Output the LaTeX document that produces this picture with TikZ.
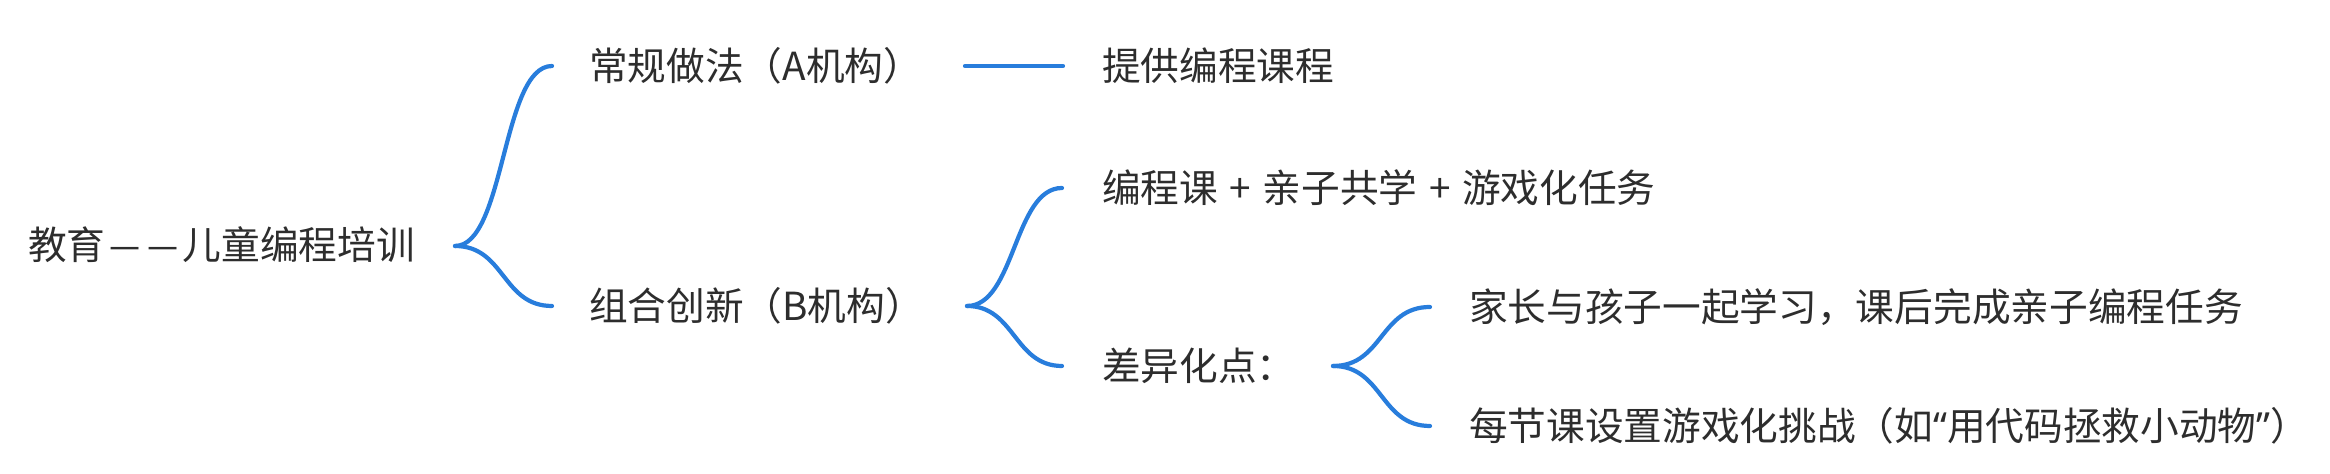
\documentclass[tikz,border=0pt]{standalone}
\usepackage{fontspec}
\setmainfont{Noto Sans CJK SC}
\newfontfamily\quotefont{Noto Sans}
\usepackage{xcolor}
\usepackage{graphicx}
\usetikzlibrary{positioning}
\definecolor{mapblue}{RGB}{40,125,220}
\definecolor{maptext}{RGB}{45,45,45}
\newcommand{\gapdash}{\makebox[1em]{\scalebox{0.9}[1]{—}}}
\newcommand{\wideplus}{\hspace{0.3em}+\hspace{0.3em}}

\begin{document}
\begin{tikzpicture}[x=0.01cm, y=-0.01cm, line width=1.2pt, topic node/.style={anchor=west,inner sep=0pt,text=maptext,font=\fontsize{11}{13}\selectfont}, link line/.style={draw=mapblue,line cap=round}]%px grid
\useasboundingbox (0,0) rectangle (2330,474);
\begin{scope}[every node/.style={topic node}]
\node (root) at (26,245) {教育\gapdash\gapdash 儿童编程培训};
\node (orgA) at (587,66) {常规做法（A机构）};
\node (orgB) at (587,306) {组合创新（B机构）};
\node (course) at (1100,66) {提供编程课程};
\node (combo) at (1100,188) {编程课\wideplus 亲子共学\wideplus 游戏化任务};
\node (diff) at (1100,366) {差异化点：};
\node (diffA) at (1467,307) {家长与孩子一起学习，课后完成亲子编程任务};
\node (diffB) at (1467,426) {每节课设置游戏化挑战（如{\quotefont “}用代码拯救小动物{\quotefont ”}）};
\end{scope}
\coordinate (rootfork) at (455,246);
\coordinate (forkA) at (965,66);
\coordinate (forkB) at (967,306);
\coordinate (forkD) at (1333,366);
\begin{scope}[every path/.style={link line}]
\draw (rootfork) .. controls +(50,0) and +(-50,0) .. ([xshift=-0.35cm]orgA.west);
\draw (rootfork) .. controls +(50,0) and +(-50,0) .. ([xshift=-0.35cm]orgB.west);
\draw (forkA) -- ([xshift=-0.37cm]course.west);
\draw (forkB) .. controls +(48,0) and +(-48,0) .. ([xshift=-0.38cm]combo.west);
\draw (forkB) .. controls +(48,0) and +(-48,0) .. ([xshift=-0.38cm]diff.west);
\draw (forkD) .. controls +(50,0) and +(-50,0) .. ([xshift=-0.37cm]diffA.west);
\draw (forkD) .. controls +(50,0) and +(-50,0) .. ([xshift=-0.37cm]diffB.west);
%\draw (diff) -- (diffA);
\end{scope}
\end{tikzpicture}
\end{document}
